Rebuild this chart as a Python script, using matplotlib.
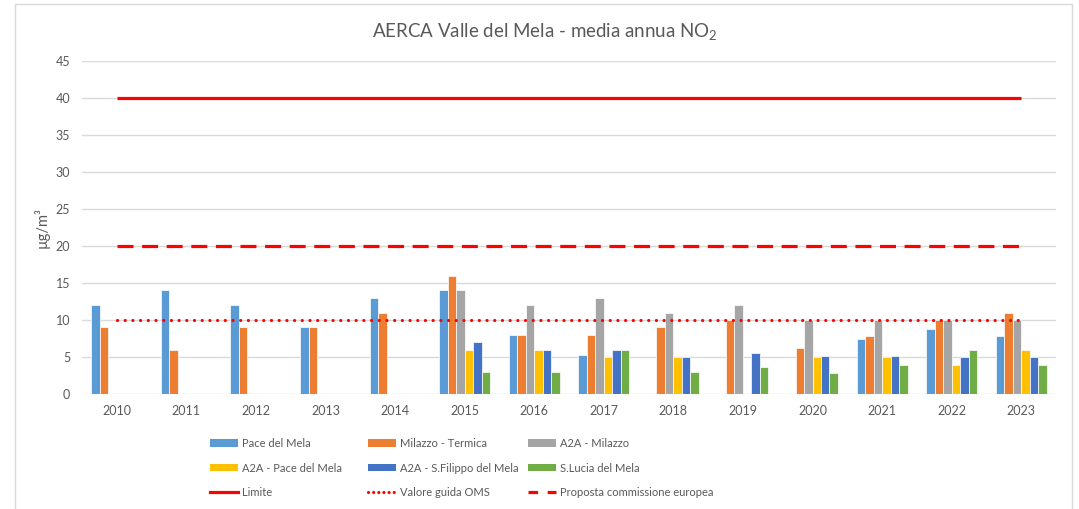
import numpy as np
import matplotlib
matplotlib.use("Agg")
import matplotlib.pyplot as plt
from matplotlib.patches import Patch, Rectangle
from matplotlib.lines import Line2D

plt.rcParams['font.family'] = ['Lato', 'DejaVu Sans']
plt.rcParams['mathtext.fontset'] = 'custom'
plt.rcParams['mathtext.rm'] = 'Lato'
plt.rcParams['mathtext.it'] = 'Lato'

# --- data ---
years = [2010, 2011, 2012, 2013, 2014, 2015, 2016, 2017, 2018, 2019, 2020, 2021, 2022, 2023]
nan = np.nan
pace_del_mela = [12, 14, 12, 9, 13, 14, 8, 5.3, nan, nan, nan, 7.4, 8.8, 7.8]
milazzo_termica = [9, 6, 9, 9, 11, 16, 8, 8, 9, 10, 6.2, 7.9, 10, 11]
a2a_milazzo = [nan, nan, nan, nan, nan, 14, 12, 13, 11, 12, 10, 10, 10, 10]
a2a_pace = [nan, nan, nan, nan, nan, 6, 6, 5, 5, nan, 5, 5, 3.9, 6]
a2a_sfilippo = [nan, nan, nan, nan, nan, 7, 6, 6, 5, 5.5, 5.1, 5.1, 5, 5]
slucia = [nan, nan, nan, nan, nan, 3, 3, 6, 3, 3.7, 2.8, 3.9, 6, 3.9]
limite = 40
valore_oms = 10
proposta_ue = 20

series = [
    ("Pace del Mela", pace_del_mela, "#5B9BD5"),
    ("Milazzo - Termica", milazzo_termica, "#ED7D31"),
    ("A2A - Milazzo", a2a_milazzo, "#A5A5A5"),
    ("A2A - Pace del Mela", a2a_pace, "#FFC000"),
    ("A2A - S.Filippo del Mela", a2a_sfilippo, "#4472C4"),
    ("S.Lucia del Mela", slucia, "#70AD47"),
]

txt = "#595959"
grid = "#D9D9D9"
red = "#FF0000"

fig = plt.figure(figsize=(10.79, 5.09), dpi=100)
ax = fig.add_axes([82 / 1079, 1 - 394 / 509, (1056 - 82) / 1079, (394 - 61) / 509])

x = np.arange(len(years))
bw = 0.122
for i, (name, vals, col) in enumerate(series):
    ax.bar(x + (i - 2.5) * bw, vals, bw, color=col, edgecolor="white", linewidth=0.5, zorder=2)

ax.plot([x[0], x[-1]], [limite, limite], color=red, lw=2.3, solid_capstyle="butt", zorder=3)
ax.plot([x[0], x[-1]], [valore_oms] * 2, color=red, lw=2.3, linestyle=(0, (0.01, 2.4)),
        dash_capstyle="round", zorder=3)
ax.plot([x[0], x[-1]], [proposta_ue] * 2, color=red, lw=2.3, linestyle=(0, (5, 2.7)),
        dash_capstyle="butt", zorder=3)

ax.set_xlim(-0.5, len(years) - 0.5)
ax.set_ylim(0, 45)
ax.set_yticks(range(0, 46, 5))
ax.set_xticks(x)
ax.set_xticklabels([str(y) for y in years])
ax.yaxis.grid(True, color=grid, lw=1, zorder=0)
ax.set_axisbelow(True)
for s in ax.spines.values():
    s.set_visible(False)
ax.tick_params(length=0, colors=txt, labelsize=9)
ax.tick_params(axis="x", pad=8)
ax.tick_params(axis="y", pad=8.5)
ax.set_ylabel("µg/m³", color=txt, fontsize=10.5, labelpad=4)

fig.text(545 / 1079, 1 - 32 / 509, "AERCA Valle del Mela - media annua NO$_2$",
         ha="center", va="center", color=txt, fontsize=13.5)

# legend: three columns placed separately
cols = [
    [series[0], series[3], ("Limite", "solid")],
    [series[1], series[4], ("Valore guida OMS", "dotted")],
    [series[2], series[5], ("Proposta commissione europea", "dashed")],
]
col_x = [210, 368, 528]
for cx, items in zip(col_x, cols):
    handles, labels = [], []
    for it in items[:2]:
        handles.append(Patch(facecolor=it[2], edgecolor="none"))
        labels.append(it[0])
    name, style = items[2]
    if style == "solid":
        h = Line2D([], [], color=red, lw=2.3)
    elif style == "dotted":
        h = Line2D([], [], color=red, lw=2.3, linestyle=(0, (0.01, 1.6)), dash_capstyle="round")
    else:
        h = Line2D([], [], color=red, lw=2.3, linestyle=(0, (3, 3)))
    handles.append(h)
    labels.append(name)
    leg = fig.legend(handles, labels, loc="upper left",
                     bbox_to_anchor=(cx / 1079, 1 - 438 / 509), frameon=False,
                     fontsize=8, handlelength=2.5, handleheight=0.65, handletextpad=0.35,
                     labelspacing=1.22, borderpad=0, borderaxespad=0)
    for t in leg.get_texts():
        t.set_color(txt)

# outer chart frame
fig.patches.append(Rectangle((15 / 1079, -0.05), (1072 - 15) / 1079, 1.05 - 4 / 509,
                             transform=fig.transFigure, fill=False, edgecolor="#D9D9D9", lw=1))

fig.savefig("out.png", dpi=100)
